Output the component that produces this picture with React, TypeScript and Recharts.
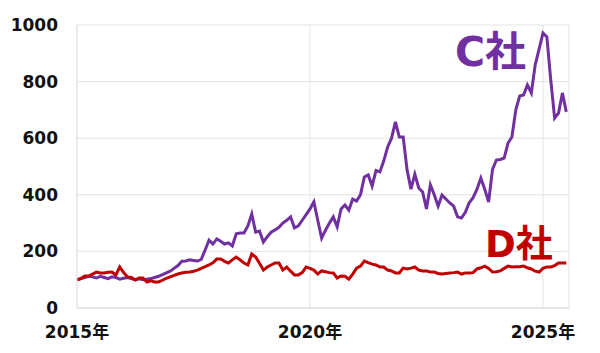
import { LineChart, Line, XAxis, YAxis, CartesianGrid } from "recharts"

// months since Jan 2015, one value per month up to Jul 2025
const cValues = [
  100, 104, 108, 112, 110, 106, 112, 108, 104, 110, 108, 102,
  105, 108, 104, 100, 103, 100, 102, 104, 108, 112, 118, 124,
  130, 140, 150, 165, 166, 170, 168, 166, 172, 205, 240, 226,
  244, 236, 226, 230, 219, 262, 265, 265, 290, 332, 268, 272,
  233, 252, 268, 276, 285, 300, 310, 322, 283, 290, 310, 330,
  350, 375, 310, 247, 275, 300, 322, 287, 350, 364, 346, 385,
  378, 400, 463, 470, 431, 486, 481, 520, 569, 600, 658, 604,
  604, 488, 420, 473, 424, 410, 350, 435, 400, 360, 399, 385,
  371, 360, 322, 318, 338, 372, 390, 420, 459, 420, 374, 490,
  523, 525, 530, 583, 604, 700, 749, 753, 788, 760, 859, 915,
  972, 958, 806, 671, 689, 760, 693,
]

const dValues = [
  100, 104, 113, 113, 120, 127, 124, 124, 126, 127, 117, 145,
  125, 110, 108, 99, 106, 106, 92, 96, 92, 92, 98, 105,
  110, 115, 120, 124, 126, 127, 130, 134, 140, 146, 152, 160,
  173, 173, 165, 159, 170, 180, 170, 159, 152, 191, 180, 158,
  134, 145, 152, 159, 159, 134, 145, 130, 117, 117, 125, 145,
  140, 134, 120, 131, 128, 125, 124, 106, 113, 112, 102, 120,
  141, 148, 166, 160, 155, 152, 145, 145, 134, 131, 124, 124,
  141, 138, 141, 145, 134, 131, 131, 127, 127, 122, 120, 122,
  124, 125, 127, 120, 124, 124, 125, 138, 142, 148, 140, 127,
  128, 131, 140, 148, 145, 146, 146, 148, 142, 138, 130, 127,
  140, 145, 145, 150, 159, 159, 159,
]

const xTicks = [0, 60, 120]
const xTickLabels = ["2015年", "2020年", "2025年"]
const yTicks = [0, 200, 400, 600, 800, 1000]

const data = cValues.map((c, i) => ({ m: i, c, d: dValues[i] }))

const font = "'DejaVu Sans', 'Noto Sans CJK JP', sans-serif"
const tickStyle = { fontSize: 17, fontWeight: 700, fill: "#111", fontFamily: font }

export default function App() {
  return (
    <div style={{ position: "absolute", left: 0, top: 0, width: 600, height: 353, background: "#fff" }}>
      <LineChart width={600} height={353} data={data} margin={{ top: 25, right: 31, bottom: 0, left: 0 }}>
        <CartesianGrid stroke="#e3e3e3" strokeWidth={1} />
        <XAxis
          dataKey="m"
          type="number"
          domain={[0, 126.7]}
          ticks={xTicks}
          tickFormatter={(v) => xTickLabels[xTicks.indexOf(v)]}
          height={45}
          tickLine={false}
          tickSize={0}
          tickMargin={18}
          axisLine={{ stroke: "#d9d9d9" }}
          tick={tickStyle}
        />
        <YAxis
          domain={[0, 1000]}
          ticks={yTicks}
          width={77}
          tickLine={false}
          tickSize={0}
          tickMargin={19}
          axisLine={{ stroke: "#e3e3e3" }}
          tick={tickStyle}
        />
        <Line dataKey="c" stroke="#7030A0" strokeWidth={3} dot={false} isAnimationActive={false} />
        <Line dataKey="d" stroke="#C00000" strokeWidth={3} dot={false} isAnimationActive={false} />
      </LineChart>
      <div style={{ position: "absolute", left: 455, top: 32, fontSize: 41, lineHeight: "41px", fontWeight: 700, color: "#7030A0", fontFamily: font }}>
        C社
      </div>
      <div style={{ position: "absolute", left: 485, top: 226, fontSize: 37, lineHeight: "37px", fontWeight: 700, color: "#C00000", fontFamily: font }}>
        D社
      </div>
    </div>
  )
}
